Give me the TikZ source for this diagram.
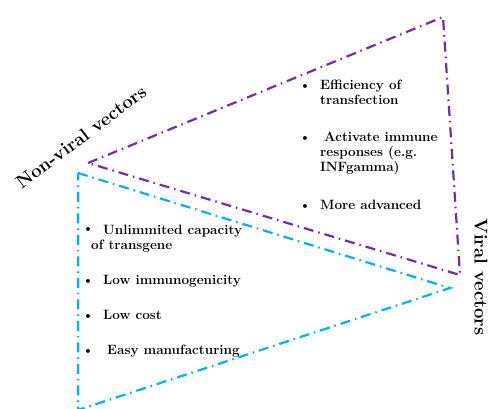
\documentclass[tikz,border=0pt]{standalone}
\usepackage{tikz}
\usetikzlibrary{positioning}
\definecolor{vpurple}{RGB}{112,48,160}
\definecolor{vblue}{RGB}{0,176,240}
\tikzset{
  dashdot/.style = {line width=2.2pt, dash pattern=on 10pt off 5pt on 1.5pt off 5pt},
  txt/.style = {anchor=base west, align=left, inner sep=0pt, font=\bfseries\fontsize{13.5}{15}\selectfont},
  bul/.style = {anchor=base, inner sep=0pt, font=\bfseries\fontsize{13}{15}\selectfont},
  lab/.style = {inner sep=0pt, font=\bfseries\fontsize{18.5}{20}\selectfont}
}
\begin{document}
\begin{tikzpicture}[x=1pt, y=-1pt]
\useasboundingbox (0,0) rectangle (492,408);
\coordinate (pl) at (88,163);
\coordinate (pt) at (443,17);
\coordinate (pr) at (460,275);
\coordinate (bt) at (78,173);
\coordinate (br) at (450,288);
\coordinate (bb) at (78,410);
\draw [vpurple, dashdot] (pl) -- (pt) -- (pr) -- cycle;
\draw [vblue, dashdot] (bt) -- (br) -- (bb) -- cycle;
\node (nv) [lab, rotate=37] at (81,137) {Non-viral vectors};
\node (vv) [lab, rotate=-90] at (481,277) {Viral vectors};
% multi-line nodes sit on the baseline of their last line
\node (p1) [txt] at (320,104) {Efficiency of\\transfection};
\node (p2) [txt] at (320,171) {\hspace*{4pt}Activate immune\\responses (e.g.\\INFgamma)};
\node (p3) [txt] at (320,209) {More advanced};
\node [bul] at (305,89) {\textbullet};
\node [bul] at (305,141) {\textbullet};
\node [bul] at (305,209) {\textbullet};
\node (b1) [txt] at (91,249) {\hspace*{12pt}Unlimmited capacity\\of transgene};
\node (b2) [txt] at (103,284) {Low immunogenicity};
\node (b3) [txt] at (103,319) {Low cost};
\node (b4) [txt] at (107,354) {Easy manufacturing};
\node [bul] at (88,232) {\textbullet};
\node [bul] at (88,284) {\textbullet};
\node [bul] at (88,319) {\textbullet};
\node [bul] at (88,354) {\textbullet};
\end{tikzpicture}
\end{document}
